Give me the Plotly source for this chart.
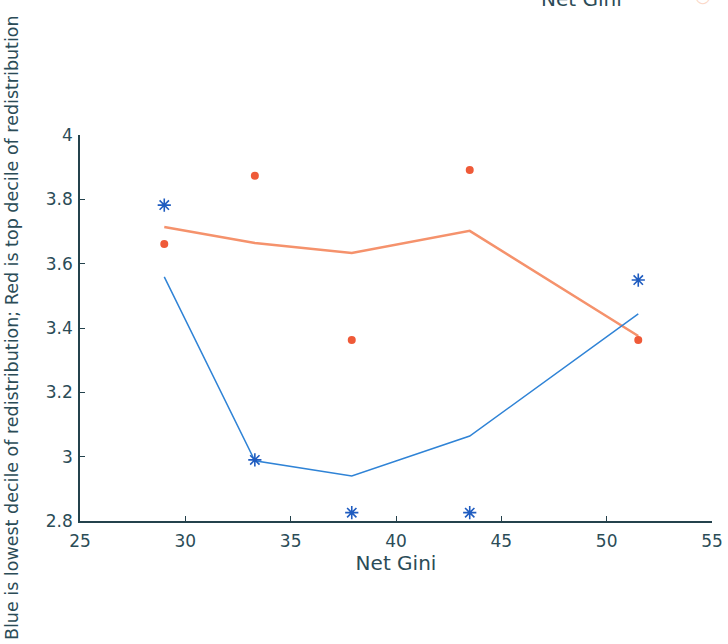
import plotly.graph_objects as go

net_gini = [29.0, 33.3, 37.9, 43.5, 51.5]
blue_points = [3.782, 2.99, 2.826, 2.826, 3.549]
red_points = [3.661, 3.873, 3.363, 3.891, 3.363]
blue_fit = [3.559, 2.987, 2.94, 3.064, 3.444]
red_fit = [3.714, 3.664, 3.633, 3.702, 3.375]

x_ticks = [25, 30, 35, 40, 45, 50, 55]
y_ticks = [2.8, 3.0, 3.2, 3.4, 3.6, 3.8, 4.0]
y_tick_text = ["2.8", "3", "3.2", "3.4", "3.6", "3.8", "4"]

axis_color = "#24424c"
text_color = "#2b4c57"
font = "DejaVu Sans, sans-serif"

fig = go.Figure()
fig.add_trace(go.Scatter(x=net_gini, y=red_fit, mode="lines",
                         line=dict(color="#f5926c", width=2.5), showlegend=False))
fig.add_trace(go.Scatter(x=net_gini, y=blue_fit, mode="lines",
                         line=dict(color="#2f83d6", width=1.5), showlegend=False))
fig.add_trace(go.Scatter(x=net_gini, y=red_points, mode="markers",
                         marker=dict(symbol="circle", color="#ef5a38", size=8), showlegend=False))
fig.add_trace(go.Scatter(x=net_gini, y=blue_points, mode="markers",
                         marker=dict(symbol="asterisk-open", size=11, color="#1f5cc0",
                                     line=dict(color="#1f5cc0", width=1.6)), showlegend=False))

fig.update_layout(
    width=728, height=644,
    margin=dict(l=80, r=16, t=135, b=123),
    plot_bgcolor="white", paper_bgcolor="white",
    font=dict(family=font, size=17, color=text_color),
    xaxis=dict(range=[25, 55], tickvals=x_ticks, ticks="inside", ticklen=5, automargin=False,
               ticklabelstandoff=4,
               tickcolor=axis_color, showline=True, linecolor=axis_color, linewidth=1.5,
               showgrid=False, zeroline=False, tickfont=dict(size=17, color=text_color),
               title=dict(text="Net Gini", font=dict(size=20, color=text_color), standoff=4)),
    yaxis=dict(range=[2.8, 4.0], tickvals=y_ticks, ticktext=y_tick_text, ticks="inside",
               ticklen=5, tickcolor=axis_color, showline=True, linecolor=axis_color,
               linewidth=1.5, showgrid=False, zeroline=False, automargin=False,
               ticklabelstandoff=2,
               tickfont=dict(size=17, color=text_color)),
    annotations=[
        dict(text="Blue is lowest decile of redistribution; Red is top decile of redistribution",
             textangle=-90, xref="paper", yref="paper", x=0, y=0.5, xshift=-68,
             xanchor="center", yanchor="middle", showarrow=False,
             font=dict(family=font, size=17.5, color=text_color)),
        dict(text="Net Gini", xref="paper", yref="paper", x=0, y=1, xshift=501, yshift=122,
             xanchor="center", yanchor="bottom", showarrow=False,
             font=dict(family=font, size=20, color=text_color)),
        dict(text="○", xref="paper", yref="paper", x=0, y=1, xshift=623, yshift=127,
             xanchor="center", yanchor="bottom", showarrow=False,
             font=dict(family=font, size=18, color="#fbd8c8")),
    ],
)

fig.write_html("out.html")
